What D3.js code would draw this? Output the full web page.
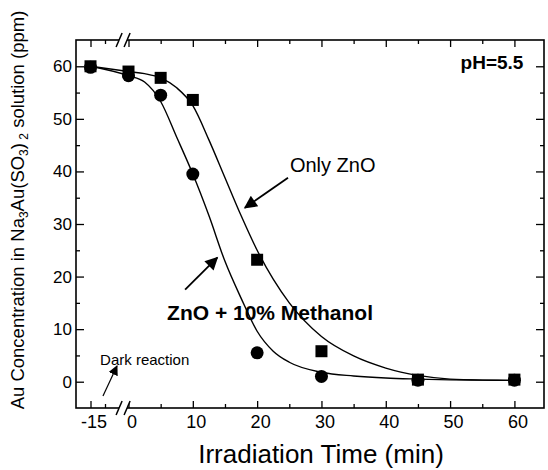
<!DOCTYPE html>
<html>
<head>
<meta charset="utf-8">
<script src="https://cdn.jsdelivr.net/npm/d3@7"></script>
<style>
body { margin: 0; background: #fff; }
svg text { font-family: Arial, "Liberation Sans", sans-serif; fill: #000; }
</style>
</head>
<body>
<svg id="chart" width="548" height="470"></svg>
<script>
// measured points (min, ppm)
var times = [-15, 0, 5, 10, 20, 30, 45, 60];
var onlyZnO = [60, 59.0, 57.8, 53.6, 23.2, 5.8, 0.4, 0.4];
var withMethanol = [59.8, 58.2, 54.5, 39.5, 5.5, 1.0, 0.3, 0.3];

// fitted curves
var fitTimes = [-15, 0, 2.5, 5, 7.5, 10, 12.5, 15, 17.5, 20, 22.5, 25, 30, 35, 40, 45, 50, 55, 60];
var fitZnO = [60, 59.0, 58.6, 57.8, 55.9, 52.5, 46.0, 38.8, 31.6, 25.0, 19.5, 15.0, 8.6, 4.9, 2.6, 1.2, 0.5, 0.3, 0.25];
var fitMethanol = [60, 58.2, 57.0, 53.3, 46.5, 39.5, 31.6, 22.9, 15.9, 9.6, 5.8, 3.7, 1.8, 1.1, 0.7, 0.5, 0.35, 0.3, 0.25];

var xLabels = [-15, 0, 10, 20, 30, 40, 50, 60];
var xMinor = [-10, 5, 15, 25, 35, 45, 55];
var yMajor = [0, 10, 20, 30, 40, 50, 60];
var yMinor = [5, 15, 25, 35, 45, 55];

var svg = d3.select("svg#chart"),
    pLeft = 76, pRight = 544, pTop = 40, pBottom = 408;

// broken time axis: the dark reaction part is squeezed before 0
var x = d3.scaleLinear()
    .domain([-20.5, -15, -10, 0, 64.6])
    .range([pLeft, 90.5, 105, 128.5, pRight]);

var y = d3.scaleLinear()
    .domain([-5, 65])
    .range([pBottom, pTop]);

var breakAt = -2.3;

function styleAxis(g) {
  g.select(".domain").remove();
  g.selectAll("line").attr("stroke", "#000").attr("stroke-width", 1.3);
  g.attr("font-size", null).attr("font-family", null);
}

// ticks on all four sides, pointing inward
svg.append("g")
    .attr("transform", "translate(" + pLeft + ",0)")
    .call(d3.axisLeft(y).tickValues(yMajor).tickSize(-8).tickPadding(4))
    .call(styleAxis)
    .selectAll("text").style("font-size", "17px");
svg.append("g")
    .attr("transform", "translate(" + pLeft + ",0)")
    .call(d3.axisLeft(y).tickValues(yMinor).tickSize(-4).tickFormat(""))
    .call(styleAxis);
svg.append("g")
    .attr("transform", "translate(" + pRight + ",0)")
    .call(d3.axisRight(y).tickValues(yMajor).tickSize(-8).tickFormat(""))
    .call(styleAxis);
svg.append("g")
    .attr("transform", "translate(" + pRight + ",0)")
    .call(d3.axisRight(y).tickValues(yMinor).tickSize(-4).tickFormat(""))
    .call(styleAxis);

svg.append("g")
    .attr("transform", "translate(0," + pBottom + ")")
    .call(d3.axisBottom(x).tickValues(xLabels).tickSize(-7).tickPadding(7)
      .tickFormat(function(d) { return String(d); }))
    .call(styleAxis)
    .selectAll("text").style("font-size", "18px").attr("dx", 3);
svg.append("g")
    .attr("transform", "translate(0," + pBottom + ")")
    .call(d3.axisBottom(x).tickValues(xMinor).tickSize(-4).tickFormat(""))
    .call(styleAxis);
svg.append("g")
    .attr("transform", "translate(0," + pTop + ")")
    .call(d3.axisTop(x).tickValues(xLabels).tickSize(-7).tickFormat(""))
    .call(styleAxis);
svg.append("g")
    .attr("transform", "translate(0," + pTop + ")")
    .call(d3.axisTop(x).tickValues(xMinor).tickSize(-4).tickFormat(""))
    .call(styleAxis);

// frame
svg.append("rect")
    .attr("x", pLeft).attr("y", pTop)
    .attr("width", pRight - pLeft).attr("height", pBottom - pTop)
    .attr("fill", "none")
    .attr("stroke", "#000")
    .attr("stroke-width", 1.6);

// axis break marks
[pTop, pBottom].forEach(function(yy) {
  var xb = x(breakAt);
  svg.append("polygon")
      .attr("points", [[xb - 7, yy + 7], [xb - 1, yy - 7], [xb + 7, yy - 7], [xb + 1, yy + 7]].join(" "))
      .attr("fill", "#fff");
  svg.append("line")
      .attr("x1", xb - 7).attr("y1", yy + 7).attr("x2", xb - 1).attr("y2", yy - 7)
      .attr("stroke", "#000").attr("stroke-width", 1.5);
  svg.append("line")
      .attr("x1", xb + 1).attr("y1", yy + 7).attr("x2", xb + 7).attr("y2", yy - 7)
      .attr("stroke", "#000").attr("stroke-width", 1.5);
});

// fitted curves
var line = d3.line()
    .x(function(d) { return x(d[0]); })
    .y(function(d) { return y(d[1]); })
    .curve(d3.curveMonotoneX);

[fitZnO, fitMethanol].forEach(function(vals) {
  svg.append("path")
      .datum(fitTimes.map(function(t, i) { return [t, vals[i]]; }))
      .attr("d", line)
      .attr("fill", "none")
      .attr("stroke", "#000")
      .attr("stroke-width", 1.4);
});

// markers
svg.append("g")
  .selectAll("rect")
  .data(times.map(function(t, i) { return [t, onlyZnO[i]]; }))
  .enter().append("rect")
    .attr("x", function(d) { return x(d[0]) - 6; })
    .attr("y", function(d) { return y(d[1]) - 6; })
    .attr("width", 12)
    .attr("height", 12)
    .attr("fill", "#000");

svg.append("g")
  .selectAll("circle")
  .data(times.map(function(t, i) { return [t, withMethanol[i]]; }))
  .enter().append("circle")
    .attr("cx", function(d) { return x(d[0]); })
    .attr("cy", function(d) { return y(d[1]); })
    .attr("r", 6.5)
    .attr("fill", "#000");

// arrows
var defs = svg.append("defs");
defs.append("marker")
    .attr("id", "head")
    .attr("viewBox", "0 0 10 10")
    .attr("refX", 9).attr("refY", 5)
    .attr("markerWidth", 10).attr("markerHeight", 10)
    .attr("markerUnits", "userSpaceOnUse")
    .attr("orient", "auto")
  .append("path")
    .attr("d", "M0,0L10,5L0,10Z")
    .attr("fill", "#000");

defs.append("marker")
    .attr("id", "bighead")
    .attr("viewBox", "0 0 10 10")
    .attr("refX", 9).attr("refY", 5)
    .attr("markerWidth", 15).attr("markerHeight", 13)
    .attr("markerUnits", "userSpaceOnUse")
    .attr("orient", "auto")
  .append("path")
    .attr("d", "M0,0L10,5L0,10Z")
    .attr("fill", "#000");

function arrow(t1, v1, t2, v2, head, w) {
  svg.append("line")
      .attr("x1", x(t1)).attr("y1", y(v1))
      .attr("x2", x(t2)).attr("y2", y(v2))
      .attr("stroke", "#000")
      .attr("stroke-width", w)
      .attr("marker-end", "url(#" + head + ")");
}
arrow(24.8, 38.8, 18.1, 33.1, "bighead", 1.8);
arrow(8.8, 17.5, 13.8, 23.6, "bighead", 1.8);
arrow(-10.7, -2.7, -4.9, 3.0, "head", 1.2);

// annotations
svg.append("text")
    .attr("x", x(61.4)).attr("y", y(59.4))
    .attr("text-anchor", "end")
    .attr("font-weight", "bold")
    .attr("font-size", 19)
    .text("pH=5.5");

svg.append("text")
    .attr("x", x(25.1)).attr("y", y(39.8))
    .attr("font-size", 20)
    .text("Only ZnO");

svg.append("text")
    .attr("x", x(6.0)).attr("y", y(11.8))
    .attr("font-weight", "bold")
    .attr("font-size", 21)
    .text("ZnO + 10% Methanol");

svg.append("text")
    .attr("x", x(-11.7)).attr("y", y(3.2))
    .attr("font-size", 15)
    .text("Dark reaction");

// axis titles
svg.append("text")
    .attr("x", 321).attr("y", 463)
    .attr("text-anchor", "middle")
    .attr("font-size", 26)
    .text("Irradiation Time (min)");

var yt = svg.append("text")
    .attr("transform", "translate(24,210) rotate(-90)")
    .attr("text-anchor", "middle")
    .attr("font-size", 18.5);
yt.append("tspan").text("Au Concentration in Na");
yt.append("tspan").attr("font-size", 12).attr("dy", 4).text("3");
yt.append("tspan").attr("dy", -4).text("Au(SO");
yt.append("tspan").attr("font-size", 12).attr("dy", 4).text("3");
yt.append("tspan").attr("dy", -4).text(")");
yt.append("tspan").attr("font-size", 12).attr("dy", 4).text(" 2");
yt.append("tspan").attr("dy", -4).text(" solution (ppm)");
</script>
</body>
</html>
